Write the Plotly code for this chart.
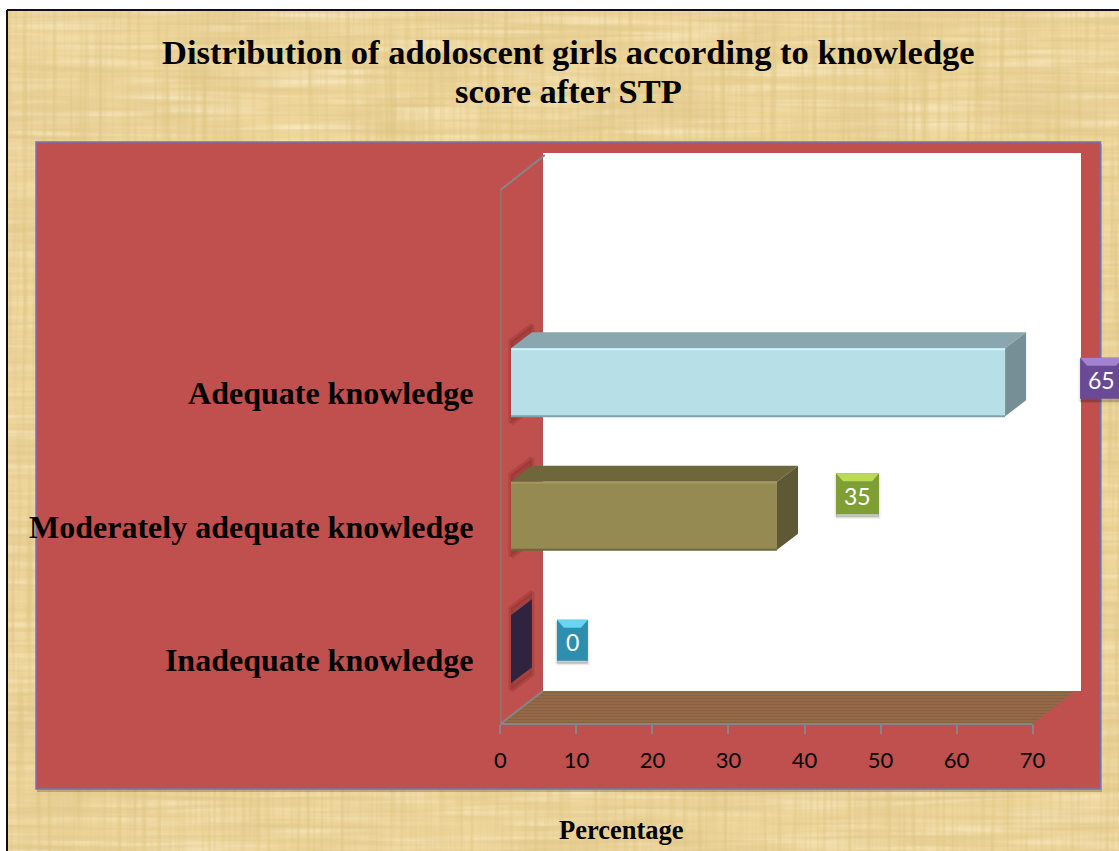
import base64
import plotly.graph_objects as go

W, H = 1119, 851

# chart data
categories = ["Inadequate knowledge", "Moderately adequate knowledge", "Adequate knowledge"]
percentages = [0, 35, 65]
x_ticks = [0, 10, 20, 30, 40, 50, 60, 70]

title_lines = ["Distribution of adoloscent girls according to knowledge", "score after STP"]
axis_title = "Percentage"

# colours per bar
front_colors = ["#2f2340", "#958a52", "#b7dfe8"]
top_colors = ["#2f2340", "#6f673c", "#8aa6ae"]
side_colors = ["#2f2340", "#5f5835", "#768f97"]
light_edges = ["#2f2340", "#a39860", "#ccf3fa"]
dark_edges = ["#2f2340", "#6f673c", "#7ba3ad"]
box_colors = ["#2d8fae", "#7f9f35", "#6a4a94"]
bevel_colors = ["#66d5f2", "#bcd95a", "#a283d0"]

# label box placement relative to the value, in px
label_dx = [72, 91, 107]
label_dy = [17, 30, 12]
label_w = [31, 43, 43]
label_h = 41

# axis placement in px
X0, X70 = 500.4, 1032.6
Y_BOTTOM, Y_TOP = 724, 190
PX_X = (X70 - X0) / 70
PX_Y = (Y_BOTTOM - Y_TOP) / 4
BAR_W = 68 / PX_Y
FRONT_DX, FRONT_DY = 10.5, 8
# axes run past 70 and past the top so the 3D parts are not cut off
X_MAX = (W - X0) / PX_X
Y_MAX = 3.5 + 60 / PX_Y


def px(x):
    return x / W


def py(y):
    return 1 - y / H


def texture():
    # woven paper look
    svg = f'''<svg xmlns="http://www.w3.org/2000/svg" width="{W}" height="{H}">
<filter id="a" x="0" y="0" width="100%" height="100%"><feTurbulence type="fractalNoise" baseFrequency="0.2 0.006" numOctaves="2" seed="4"/>
<feColorMatrix values="0 0 0 0 .72 0 0 0 0 .55 0 0 0 0 .22 1.5 0 0 0 -.64"/></filter>
<filter id="b" x="0" y="0" width="100%" height="100%"><feTurbulence type="fractalNoise" baseFrequency="0.006 0.2" numOctaves="2" seed="9"/>
<feColorMatrix values="0 0 0 0 .72 0 0 0 0 .55 0 0 0 0 .24 1.5 0 0 0 -.66"/></filter>
<filter id="d" x="0" y="0" width="100%" height="100%"><feTurbulence type="fractalNoise" baseFrequency="0.008 0.12" numOctaves="2" seed="17"/>
<feColorMatrix values="0 0 0 0 .98 0 0 0 0 .88 0 0 0 0 .64 1.4 0 0 0 -.62"/></filter>
<filter id="c" x="0" y="0" width="100%" height="100%"><feTurbulence type="fractalNoise" baseFrequency="0.012 0.016" numOctaves="3" seed="2"/>
<feColorMatrix values="0 0 0 0 .78 0 0 0 0 .60 0 0 0 0 .28 1.8 0 0 0 -.76"/></filter>
<rect width="100%" height="100%" fill="#eed69b"/>
<rect width="100%" height="100%" filter="url(#c)"/>
<rect width="100%" height="100%" filter="url(#d)"/>
<rect width="100%" height="100%" filter="url(#b)"/>
<rect width="100%" height="100%" filter="url(#a)"/>
</svg>'''
    return "data:image/svg+xml;base64," + base64.b64encode(svg.encode()).decode()


fig = go.Figure()

# floor
dx_wall = 42.5 / PX_X
dy_wall = 33 / PX_Y
fig.add_trace(go.Scatter(
    x=[0, 70, 70 + dx_wall, dx_wall, 0], y=[-0.5, -0.5, -0.5 + dy_wall, -0.5 + dy_wall, -0.5],
    mode="lines", line=dict(width=0), fill="toself", hoverinfo="skip",
    fillcolor="#93683f",
    fillpattern=dict(shape="-", bgcolor="#94694a", fgcolor="#7f5631", size=3, solidity=0.3),
))
# wall edge
fig.add_trace(go.Scatter(
    x=[dx_wall, 0, 0, dx_wall + 2 / PX_X], y=[-0.5 + dy_wall, -0.5, 3.5, 3.5 + 35 / PX_Y],
    mode="lines", line=dict(color="#868686", width=2), hoverinfo="skip",
))

# value label boxes
for v, p, dx, dy, w, c, b in zip(percentages, range(3), label_dx, label_dy, label_w, box_colors, bevel_colors):
    cx, cy = v + dx / PX_X, p + dy / PX_Y
    hw, hh = w / 2 / PX_X, label_h / 2 / PX_Y
    inset_x, inset_y = 7 / PX_X, 8 / PX_Y
    drop = 3 / PX_Y
    fig.add_trace(go.Scatter(
        x=[cx - hw, cx + hw, cx + hw, cx - hw, cx - hw],
        y=[cy - hh - drop, cy - hh - drop, cy + hh - drop, cy + hh - drop, cy - hh - drop],
        mode="lines", line=dict(width=3, color="rgba(0,0,0,0.08)"), fill="toself",
        fillcolor="rgba(0,0,0,0.2)", hoverinfo="skip",
    ))
    fig.add_trace(go.Scatter(
        x=[cx - hw, cx + hw, cx + hw, cx - hw, cx - hw],
        y=[cy - hh, cy - hh, cy + hh, cy + hh, cy - hh],
        mode="lines", line=dict(width=0), fill="toself", fillcolor=c, hoverinfo="skip",
    ))
    fig.add_trace(go.Scatter(
        x=[cx - hw, cx + hw, cx + hw - inset_x, cx - hw + inset_x, cx - hw],
        y=[cy + hh, cy + hh, cy + hh - inset_y, cy + hh - inset_y, cy + hh],
        mode="lines", line=dict(width=0), fill="toself", fillcolor=b, hoverinfo="skip",
    ))
    fig.add_annotation(x=v, y=p, xref="x", yref="y", xshift=dx, yshift=dy - 2, text=str(v),
                       showarrow=False, font=dict(family="Lato", size=23, color="white"))

# 3D bar faces
depth_x = 21 / PX_X
depth_y = 16 / PX_Y
half = BAR_W / 2

# shadow on the wall sits in the back axes so that it stays under the bars
sx, sy = FRONT_DX / PX_X, FRONT_DY / PX_Y
for p in range(3):
    m = 7 / PX_Y
    fig.add_trace(go.Scatter(
        x=[sx, sx + depth_x, sx + depth_x, sx, sx],
        y=[p + sy - half - m, p + sy - half - m + depth_y, p + sy + half + m + depth_y, p + sy + half + m, p + sy - half - m],
        mode="lines", line=dict(width=5, color="rgba(150,50,50,0.4)"), fill="toself",
        fillcolor="#a34240", hoverinfo="skip",
    ))

fig.add_trace(go.Bar(
    y=list(range(3)), x=percentages, orientation="h", width=BAR_W,
    marker=dict(color=front_colors, line=dict(width=0)),
    xaxis="x2", yaxis="y2", hoverinfo="skip",
))

for p, v in enumerate(percentages):
    fig.add_trace(go.Scatter(
        x=[0, v, v + depth_x, depth_x, 0],
        y=[p + half, p + half, p + half + depth_y, p + half + depth_y, p + half],
        mode="lines", line=dict(width=0), fill="toself", fillcolor=top_colors[p],
        xaxis="x2", yaxis="y2", hoverinfo="skip",
    ))
    fig.add_trace(go.Scatter(
        x=[v, v + depth_x, v + depth_x, v, v],
        y=[p - half, p - half + depth_y, p + half + depth_y, p + half, p - half],
        mode="lines", line=dict(width=0), fill="toself", fillcolor=side_colors[p],
        xaxis="x2", yaxis="y2", hoverinfo="skip",
    ))
    # bevel edges on the front face
    fig.add_trace(go.Scatter(
        x=[0, v], y=[p + half - 1 / PX_Y, p + half - 1 / PX_Y],
        mode="lines", line=dict(width=2, color=light_edges[p]),
        xaxis="x2", yaxis="y2", hoverinfo="skip",
    ))
    fig.add_trace(go.Scatter(
        x=[0, v], y=[p - half, p - half],
        mode="lines", line=dict(width=2, color=dark_edges[p]),
        xaxis="x2", yaxis="y2", hoverinfo="skip",
    ))

for line, y in zip(title_lines, [52, 91]):
    fig.add_annotation(x=px(568), y=py(y), xref="paper", yref="paper", xanchor="center", yanchor="middle",
                       text="<b>" + line + "</b>", showarrow=False,
                       font=dict(family="Liberation Serif", size=34.5, color="black"))
fig.add_annotation(x=px(621), y=py(830), xref="paper", yref="paper", xanchor="center", yanchor="middle",
                   text="<b>" + axis_title + "</b>", showarrow=False,
                   font=dict(family="Liberation Serif", size=26.5, color="black"))

fig.update_layout(
    width=W, height=H, margin=dict(l=0, r=0, t=0, b=0, autoexpand=False),
    paper_bgcolor="white", plot_bgcolor="rgba(0,0,0,0)", showlegend=False, bargap=0,
    images=[dict(source=texture(), xref="paper", yref="paper", x=px(8), y=py(11),
                 sizex=px(W - 8), sizey=(H - 11) / H, sizing="stretch", layer="below")],
    shapes=[
        dict(type="line", xref="paper", yref="paper", x0=px(7), x1=px(7), y0=0, y1=py(10),
             line=dict(color="#111111", width=2), layer="below"),
        dict(type="line", xref="paper", yref="paper", x0=px(7), x1=1, y0=py(10), y1=py(10),
             line=dict(color="#111111", width=2), layer="below"),
        dict(type="rect", xref="paper", yref="paper", x0=px(37), x1=px(1102), y0=py(792), y1=py(144),
             fillcolor="rgba(90,70,40,0.3)", line=dict(width=0), layer="below"),
        dict(type="rect", xref="paper", yref="paper", x0=px(36), x1=px(1100.5), y0=py(789), y1=py(142),
             fillcolor="#c0504d", line=dict(color="#7173b8", width=1.5), layer="below"),
        dict(type="rect", xref="paper", yref="paper", x0=px(543), x1=px(1081), y0=py(691), y1=py(153),
             fillcolor="white", line=dict(width=0), layer="below"),
        # x axis line stops at 70
        dict(type="line", xref="paper", yref="paper", x0=px(X0), x1=px(X70), y0=py(Y_BOTTOM), y1=py(Y_BOTTOM),
             line=dict(color="#868686", width=2), layer="above"),
    ],
    xaxis=dict(domain=[px(X0), 1], range=[0, X_MAX], tickvals=x_ticks, showgrid=False, zeroline=False,
               showline=False, ticks="outside", ticklen=9, ticklabelstandoff=8,
               tickcolor="#868686", tickwidth=2, anchor="y",
               tickfont=dict(family="Lato", size=22, color="black")),
    yaxis=dict(domain=[py(Y_BOTTOM), py(Y_TOP - 60)], range=[-0.5, Y_MAX], tickvals=[0, 1, 2], ticktext=categories,
               showgrid=False, zeroline=False, showline=False, ticks="", ticklabelstandoff=26, ticklabelshift=3,
               anchor="x", tickfont=dict(family="Liberation Serif", size=32, color="black", weight="bold"),
               automargin=False),
    xaxis2=dict(domain=[px(X0 + FRONT_DX), 1], range=[0, X_MAX - FRONT_DX / PX_X], visible=False, anchor="y2"),
    yaxis2=dict(domain=[py(Y_BOTTOM - FRONT_DY), py(Y_TOP - 60 - FRONT_DY)], range=[-0.5, Y_MAX], visible=False, anchor="x2"),
)

fig.write_html("out.html", config={"displayModeBar": False}, post_script="document.body.style.margin='0';")
